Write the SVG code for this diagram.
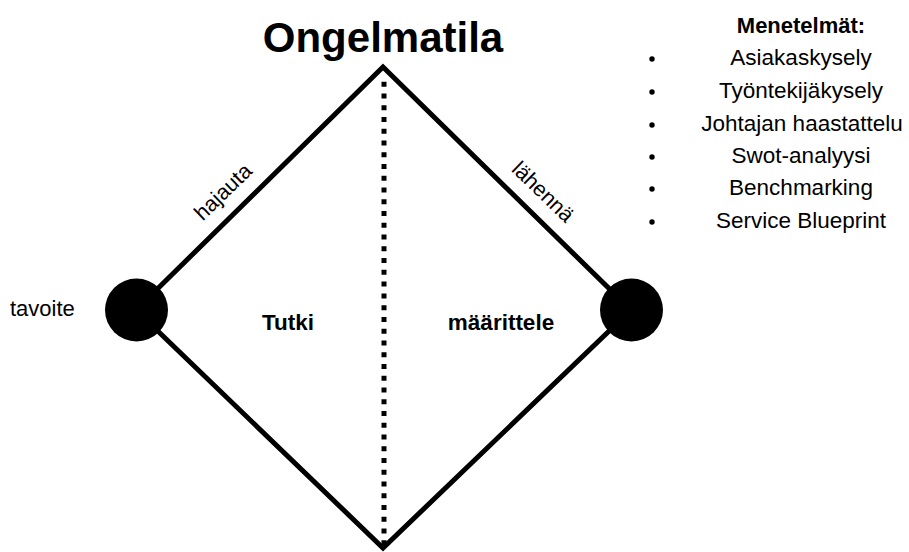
<svg xmlns="http://www.w3.org/2000/svg" width="909" height="552" viewBox="0 0 909 552">
<style>
text{font-family:"Liberation Sans",Arial,sans-serif;fill:#000}
.b{font-weight:bold}
.m{text-anchor:middle}
.edge{fill:none;stroke:#000;stroke-width:5;stroke-linejoin:miter}
.li{font-size:22.5px;text-anchor:middle}
</style>
<rect width="909" height="552" fill="#fff"/>
<g id="diamond">
<polygon points="383,67 631,310 383,548 136,310" fill="#fdfbef" class="edge"/>
</g>
<g id="connectors">
<line x1="384" y1="81.7" x2="384" y2="548" stroke="#000" stroke-width="5" stroke-dasharray="5 6.76"/>
</g>
<g id="start">
<circle cx="136.5" cy="310" r="31.5" fill="#000"/>
<text x="10" y="316" font-size="22">tavoite</text>
</g>
<g id="end">
<circle cx="631.5" cy="310" r="31.5" fill="#000"/>
</g>
<g id="title">
<text x="383" y="52" class="b m" font-size="42">Ongelmatila</text>
</g>
<g id="tutki">
<text x="288" y="330" class="b m" font-size="22.5">Tutki</text>
</g>
<g id="maarittele">
<text x="501" y="330" class="b m" font-size="22.5">määrittele</text>
</g>
<g id="hajauta">
<text transform="translate(228,197) rotate(-44)" class="m" font-size="21.5">hajauta</text>
</g>
<g id="lahenna">
<text transform="translate(538,197) rotate(44)" class="m" font-size="21.5">lähennä</text>
</g>
<g id="methods">
<text x="801" y="33" class="b m" font-size="22">Menetelmät:</text>
<g fill="#000">
<circle cx="652" cy="59" r="2.7"/>
<circle cx="652" cy="92" r="2.7"/>
<circle cx="652" cy="125" r="2.7"/>
<circle cx="652" cy="157" r="2.7"/>
<circle cx="652" cy="189" r="2.7"/>
<circle cx="652" cy="222" r="2.7"/>
</g>
<text x="801" y="65" class="li">Asiakaskysely</text>
<text x="801" y="98" class="li">Työntekijäkysely</text>
<text x="802" y="131" class="li">Johtajan haastattelu</text>
<text x="801" y="163" class="li">Swot-analyysi</text>
<text x="801" y="195" class="li">Benchmarking</text>
<text x="801" y="228" class="li">Service Blueprint</text>
</g>
</svg>
